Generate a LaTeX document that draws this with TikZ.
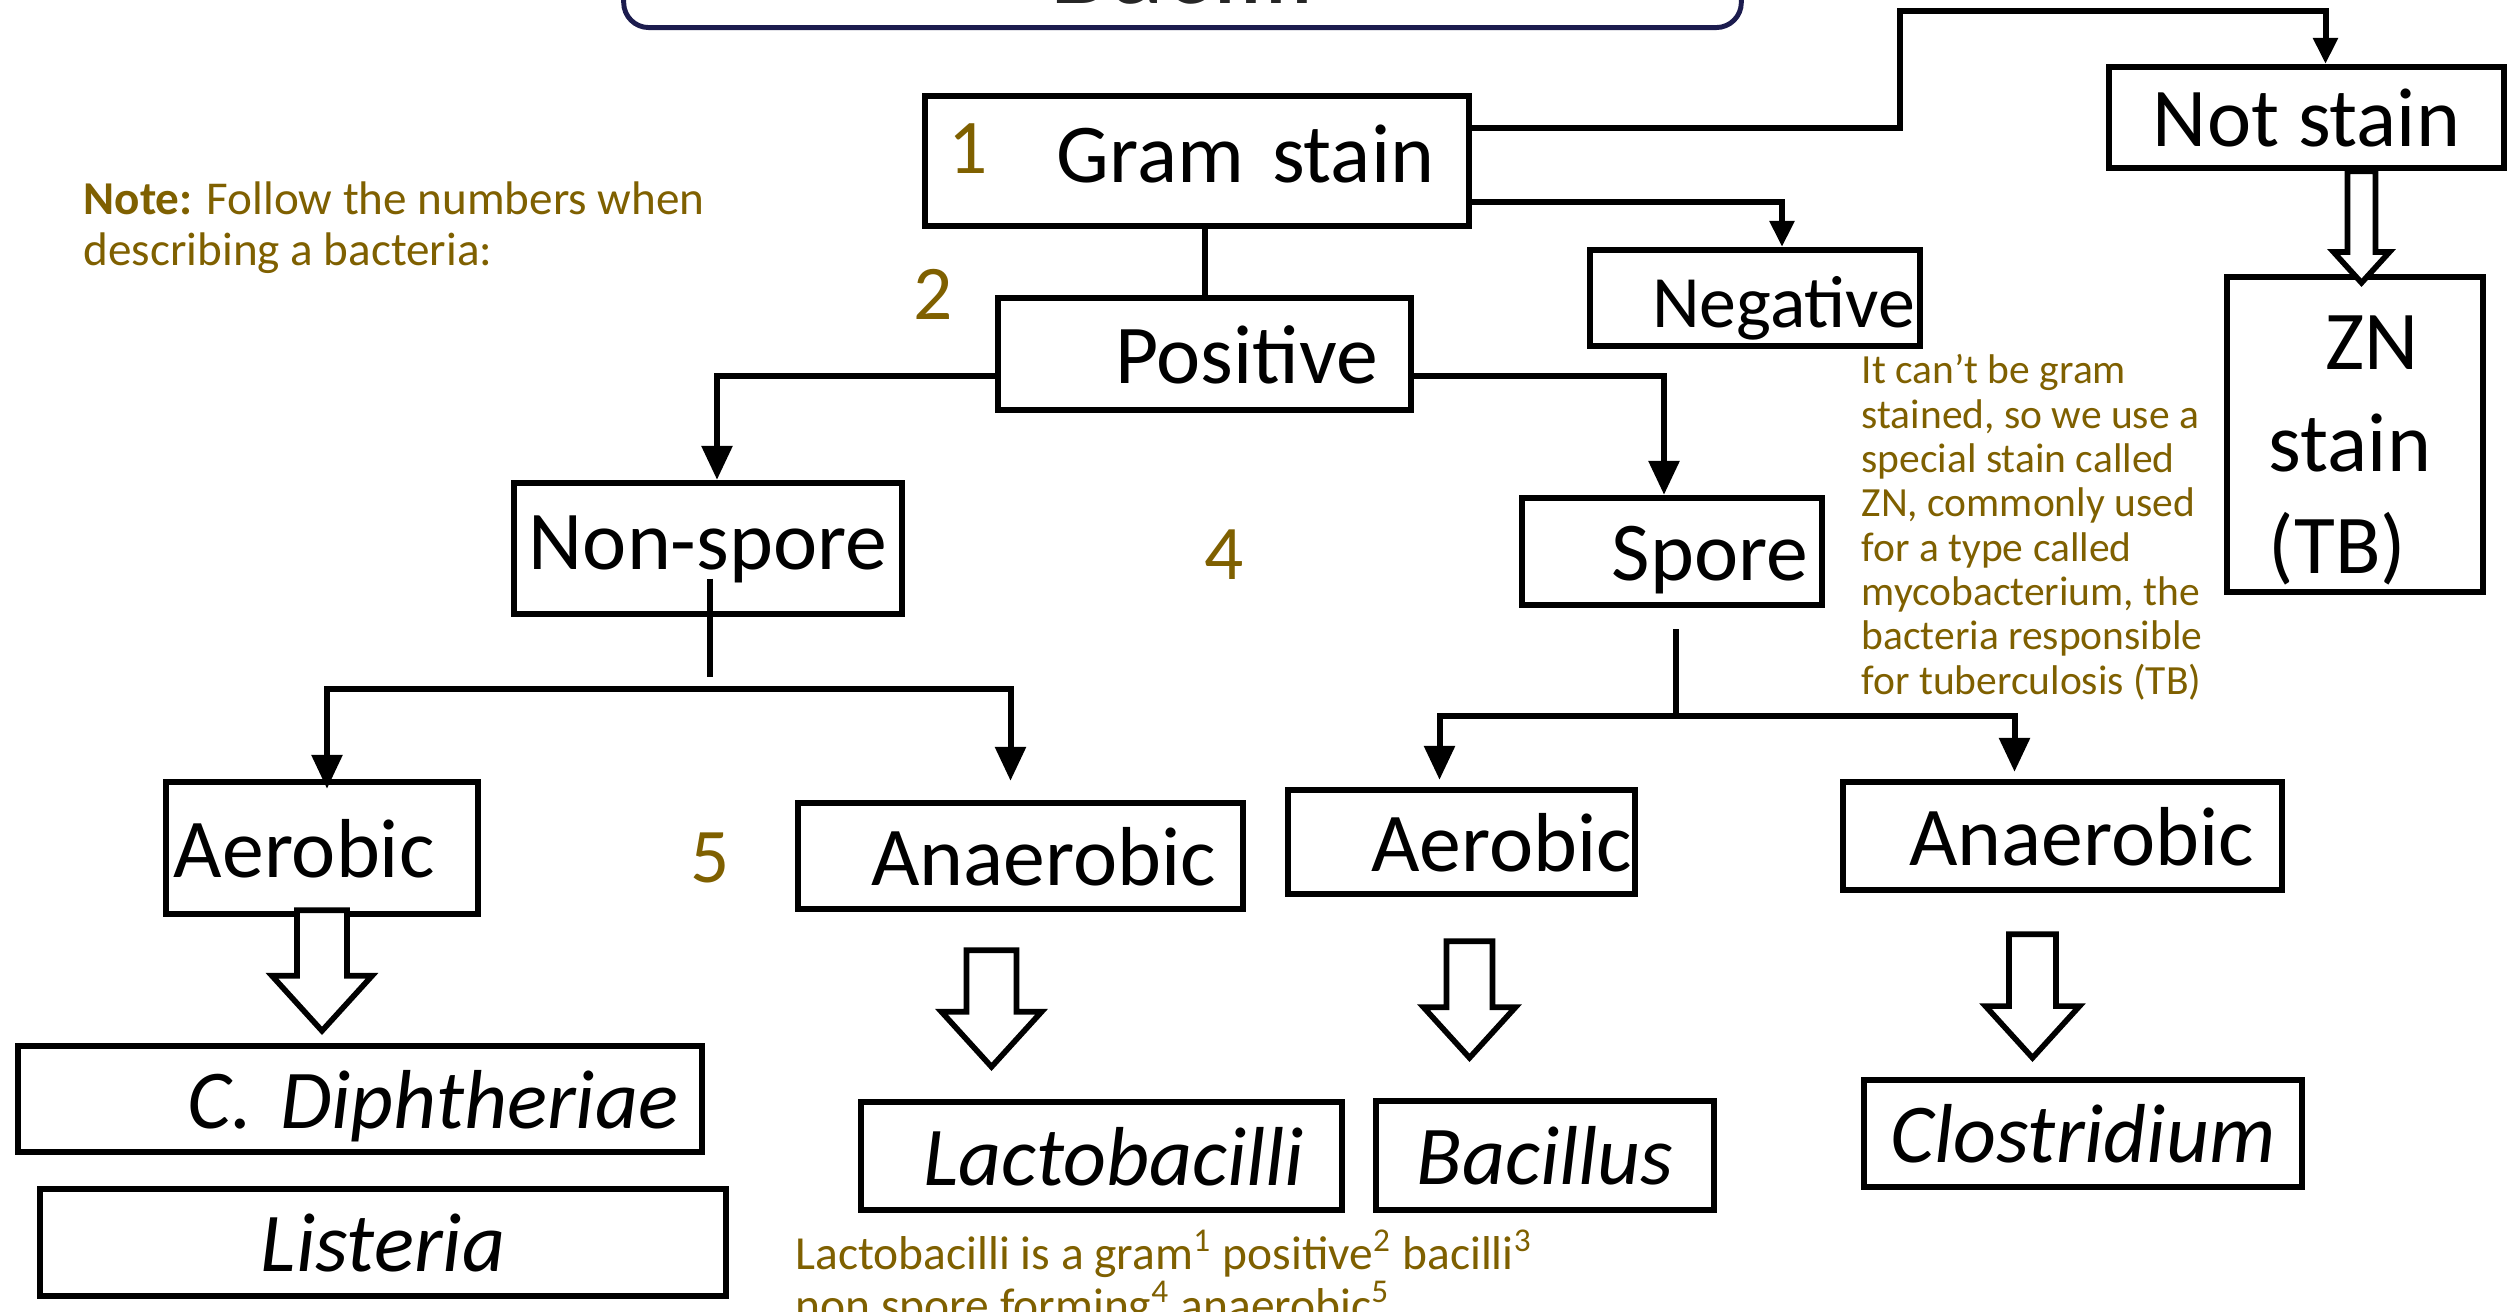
\documentclass[tikz,border=0pt]{standalone}
\usepackage{fontspec}
\setmainfont{Carlito}
\usetikzlibrary{arrows.meta,calc}
\definecolor{notebrown}{HTML}{7F6000}
\definecolor{titlenavy}{HTML}{1C1C4E}
% hollow block arrow: from, to, x offset, offset below from, offset at to, half shaft
\newcommand{\hollow}[6]{%
  \draw[hollowarrow] let \p1=($(#1.south)+(#3,#4)$), \p2=($(#2.north)+(#3,#5)$) in
    (\x1-#6,\y1) -- (\x1-#6,\y2+2.2*#6) -- (\x1-2*#6,\y2+2.2*#6) -- (\x1,\y2)
    -- (\x1+2*#6,\y2+2.2*#6) -- (\x1+#6,\y2+2.2*#6) -- (\x1+#6,\y1) -- cycle;}

\begin{document}
\begin{tikzpicture}[x=0.01cm, y=-0.01cm,
    box/.style={draw, line width=1.8pt, inner sep=0pt, font=\fontsize{23.8}{29}\selectfont},
    cell/.style={box, text height=0.62cm, text depth=0.04cm},
    ital/.style={cell, font=\fontsize{23.8}{29}\selectfont\itshape},
    num/.style={text=notebrown, font=\fontsize{22}{26}\selectfont},
    note/.style={text=notebrown, align=left, inner sep=0pt},
    conn/.style={line width=1.7pt},
    arr/.style={-{Triangle[length=0.34cm,width=0.30cm]}},
    both/.style={{Triangle[length=0.34cm,width=0.30cm]}-{Triangle[length=0.34cm,width=0.30cm]}},
    smallarr/.style={-{Triangle[length=0.26cm,width=0.24cm]}},
    hollowarrow/.style={draw, line width=1.6pt, fill=white, line join=miter},
    titlebox/.style={draw=titlenavy, line width=1.4pt, rounded corners=0.25cm, inner sep=0pt}]
    \useasboundingbox[fill=white] (0,0) rectangle (2509,1311);

    % Title (cut off at the top)
    \node[titlebox, anchor=south, minimum width=11.17cm, text height=1.5cm, text depth=0.24cm,
          font=\fontsize{32}{38}\selectfont, text=black!85] (title) at (1182.5,30) {Bacilli};

    % Gram stain
    \node[cell, minimum width=5.44cm, minimum height=1.30cm, text width=4.74cm, align=right,
          text height=0.5cm, text depth=0.08cm] (gram) at (1197,161) {Gram stain};
    \node[num] (n1) at (968,149) {1};
    \node[cell, minimum width=3.95cm, minimum height=1.01cm] (notst) at (2306.5,117.5) {Not stain};
    \node[box, minimum width=2.56cm, minimum height=3.15cm, text width=1.72cm, align=left]
          (zn) at (2355,434.5) {\rule{0pt}{0.85cm}\hspace*{0.56cm}ZN\\stain\\(TB)};
    \node[cell, minimum width=3.30cm, minimum height=0.96cm, text width=3.20cm, align=right,
          font=\fontsize{21}{25}\selectfont] (neg) at (1755,298) {Negative};
    \node[cell, minimum width=4.13cm, minimum height=1.12cm, text width=3.47cm, align=right]
          (posi) at (1204.5,354) {Positive};
    \node[num] (n2) at (933,294) {2};

    % Spore / non-spore
    \node[cell, minimum width=3.88cm, minimum height=1.31cm, text height=0.5cm, text depth=0.08cm]
          (nonsp) at (708,548.5) {Non-spore};
    \node[cell, minimum width=3.00cm, minimum height=1.07cm, text width=2.72cm, align=right]
          (spore) at (1672,551.5) {Spore};
    \node[num] (n4) at (1224,555) {4};

    % Oxygen
    \node[cell, minimum width=3.12cm, minimum height=1.32cm, text width=2.96cm, align=left]
          (aeroL) at (322,848) {Aerobic};
    \node[cell, minimum width=4.45cm, minimum height=1.06cm, text width=3.91cm, align=right]
          (anaeL) at (1020.5,856) {Anaerobic};
    \node[num] (n5) at (710,858) {5};
    \node[cell, minimum width=3.47cm, minimum height=1.04cm, text width=3.41cm, align=right]
          (aeroR) at (1461.5,842) {Aerobic};
    \node[cell, minimum width=4.39cm, minimum height=1.08cm, text width=3.83cm, align=right]
          (anaeR) at (2062.5,836) {Anaerobic};

    % Examples
    \node[ital, minimum width=6.84cm, minimum height=1.06cm, text width=6.36cm, align=right]
          (diph) at (360,1099) {C. Diphtheriae};
    \node[ital, minimum width=6.86cm, minimum height=1.07cm] (list) at (383,1242.5) {Listeria};
    \node[ital, minimum width=4.81cm, minimum height=1.08cm, text width=4.05cm, align=right]
          (lacto) at (1101.5,1156) {Lactobacilli};
    \node[ital, minimum width=3.38cm, minimum height=1.09cm] (bacil) at (1545,1155.5) {Bacillus};
    \node[ital, minimum width=4.38cm, minimum height=1.07cm] (clost) at (2083,1133.5) {Clostridium};

    % Notes
    \node[note, anchor=north west, font=\fontsize{13.4}{14.6}\selectfont] (note) at (83,181)
          {\textbf{Note:} Follow the numbers when\\describing a bacteria:};
    \node[note, anchor=north west, font=\fontsize{11.8}{12.6}\selectfont] (znnote) at (1861,354)
          {It can’t be gram\\stained, so we use a\\special stain called\\ZN, commonly used\\for a type called\\mycobacterium, the\\bacteria responsible\\for tuberculosis (TB)};
    \node[note, anchor=north west, font=\fontsize{13.5}{12.2}\selectfont] (lbnote) at (795,1229)
          {Lactobacilli is a gram\textsuperscript{1} positive\textsuperscript{2} bacilli\textsuperscript{3}\\non spore forming\textsuperscript{4} anaerobic\textsuperscript{5}};

    % Connectors
    \coordinate (topbend) at (1900,11);
    \draw[conn, smallarr] ($(gram.east)+(0,-33)$) -| (topbend) -| ($(notst.north)+(19,0)$);
    \draw[conn, smallarr] ($(gram.east)+(0,41)$) -| ($(neg.north)+(27,0)$);
    \draw[conn] (gram.south -| posi.north) -- (posi.north);
    \draw[conn, arr] ($(posi.west)+(0,22)$) -| ($(nonsp.north)+(9,0)$);
    \draw[conn, arr] ($(posi.east)+(0,22)$) -| ($(spore.north)+(-8,0)$);

    \coordinate (jL) at (710,689);
    \draw[conn] ($(jL |- nonsp.center)+(0,30)$) -- ($(jL)+(0,-12)$);
    \draw[conn, both] ($(aeroL.north)+(5,10)$) |- (jL) -| ($(anaeL.north)+(-10,-19)$);

    \coordinate (jR) at (1676,716);
    \draw[conn] ($(jR |- spore.south)+(0,21)$) -- (jR);
    \draw[conn, both] ($(aeroR.north)+(-22,-7)$) |- (jR) -| ($(anaeR.north)+(-48,-7)$);

    % Hollow arrows
    \hollow{aeroL}{diph}{0}{-7}{-12}{0.25cm}
    \hollow{anaeL}{lacto}{-29}{38}{-32}{0.25cm}
    \hollow{aeroR}{bacil}{8}{44}{-40}{0.23cm}
    \hollow{anaeR}{clost}{-30}{41}{-19}{0.235cm}
    \hollow{notst}{zn}{55}{0}{9}{0.14cm}
\end{tikzpicture}
\end{document}
